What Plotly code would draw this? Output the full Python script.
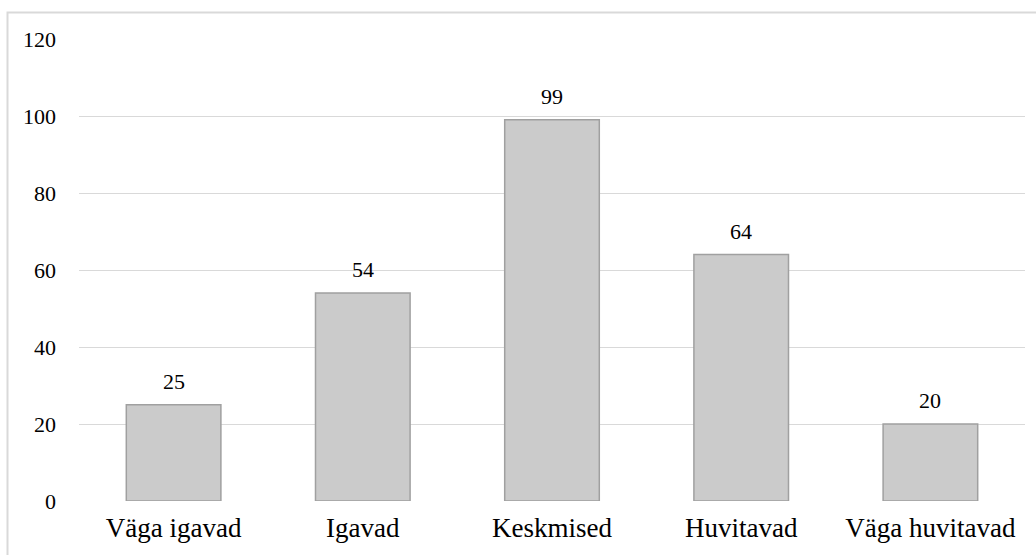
import plotly.graph_objects as go

# Survey answers per category
categories = ["Väga igavad", "Igavad", "Keskmised", "Huvitavad", "Väga huvitavad"]
counts = [25, 54, 99, 64, 20]
y_ticks = [0, 20, 40, 60, 80, 100, 120]

W, H = 1036, 555
ML, MR, MT, MB = 79, 11, 39, 54
plot_w = W - ML - MR
plot_h = H - MT - MB

serif = "Liberation Serif, Times New Roman, serif"
text_col = "#000000"

fig = go.Figure()
fig.add_trace(go.Bar(
    x=categories,
    y=counts,
    width=0.5,
    marker=dict(color="#cbcbcb", line=dict(color="#a0a0a0", width=1.5)),
    hoverinfo="x+y",
    showlegend=False,
))

# value labels above each bar
for c, v in zip(categories, counts):
    fig.add_annotation(
        x=c, y=v, text=str(v), showarrow=False,
        yanchor="bottom", yshift=9,
        font=dict(family=serif, size=22, color=text_col),
    )

# outer frame (top and left edges visible)
fx0 = (7.5 - ML) / plot_w
fy1 = (H - MB - 12.5) / plot_h
fig.add_shape(type="rect", xref="paper", yref="paper",
              x0=fx0, x1=1.2, y0=-0.3, y1=fy1,
              line=dict(color="#d9d9d9", width=2), layer="below")

fig.update_layout(
    width=W, height=H,
    margin=dict(l=ML, r=MR, t=MT, b=MB, pad=0),
    paper_bgcolor="white",
    plot_bgcolor="white",
    bargap=0.5,
    xaxis=dict(
        showgrid=False, zeroline=False, showline=False,
        ticks="", ticklabelstandoff=8,
        tickfont=dict(family=serif, size=27, color=text_col),
    ),
    yaxis=dict(
        range=[0, 120], tickvals=y_ticks,
        showgrid=True, gridcolor="#d9d9d9", gridwidth=1.3,
        zeroline=False, showline=False,
        ticks="", ticklabelstandoff=22,
        tickfont=dict(family=serif, size=22, color=text_col),
    ),
)

fig.write_html("out.html")
